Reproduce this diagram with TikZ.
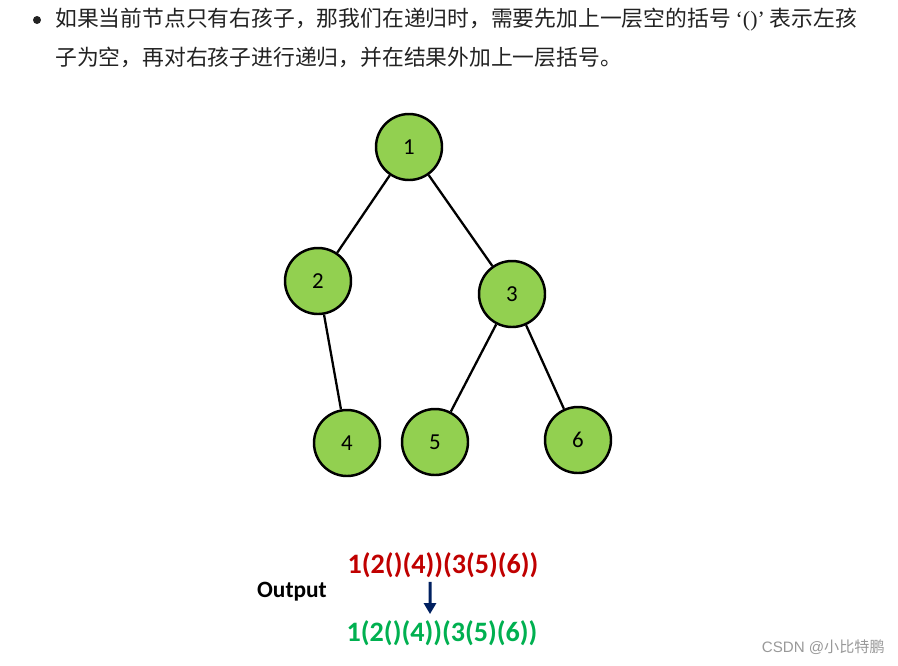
\documentclass[tikz,border=0pt]{standalone}
\usepackage{fontspec}
\setmainfont{Carlito}
\newfontfamily\cjk{Noto Sans CJK SC}
\newfontfamily\quotefont{Liberation Serif}
\newfontfamily\markfont{Liberation Sans}
\usetikzlibrary{arrows.meta}
\definecolor{nodegreen}{HTML}{92D050}
\definecolor{outred}{HTML}{C00000}
\definecolor{outgreen}{HTML}{00B050}
\definecolor{arrownavy}{HTML}{002060}
\definecolor{marktext}{HTML}{999999}
\definecolor{bodytext}{HTML}{222222}
\tikzstyle{treenode} = [circle, draw, line width=1.4pt, fill=nodegreen, minimum size=1.32cm, inner sep=0pt, font=\fontsize{13}{15}\selectfont]
\tikzstyle{edge} = [line width=1.3pt]
\tikzstyle{bodyline} = [anchor=west, inner sep=0pt, text=bodytext, font=\cjk\fontsize{12.4}{15}\selectfont]
\tikzstyle{result} = [inner sep=0pt, font=\bfseries\fontsize{16}{19}\selectfont]

\begin{document}
\begin{tikzpicture}
            \useasboundingbox (0,0) rectangle (17.96,-13.3);
            % explanation text
            \fill[bodytext] (0.74,-0.40) circle (0.08);
            \node (line1) [bodyline] at (1.10,-0.40) {如果当前节点只有右孩子，那我们在递归时，需要先加上一层空的括号 {\quotefont ‘()’} 表示左孩};
            \node (line2) [bodyline] at (1.10,-1.14) {子为空，再对右孩子进行递归，并在结果外加上一层括号。};
            % tree
            \node (n1) [treenode] at (8.18,-2.94) {1};
            \node (n2) [treenode, below of = n1, xshift = -1.82cm, yshift = -1.68cm] {2};
            \node (n3) [treenode, below of = n1, xshift = 2.06cm, yshift = -1.94cm] {3};
            \node (n4) [treenode, below of = n2, xshift = 0.58cm, yshift = -2.24cm] {4};
            \node (n5) [treenode, below of = n3, xshift = -1.54cm, yshift = -1.96cm] {5};
            \node (n6) [treenode, below of = n3, xshift = 1.32cm, yshift = -1.92cm] {6};
            \draw [edge] (n1) -- (n2);
            \draw [edge] (n1) -- (n3);
            \draw [edge] (n2) -- (n4);
            \draw [edge] (n3) -- (n5);
            \draw [edge] (n3) -- (n6);
            % output
            \node (label) [inner sep=0pt, font=\bfseries\fontsize{13.3}{16}\selectfont] at (5.84,-11.84) {Output};
            \node (before) [result, text=outred] at (8.86,-11.30) {1(2()(4))(3(5)(6))};
            \node (after) [result, text=outgreen] at (8.84,-12.66) {1(2()(4))(3(5)(6))};
            \draw [arrownavy, line width=1.7pt, -{Triangle[length=2.2mm, width=2.4mm]}] ([xshift=-0.26cm, yshift=-0.08cm]before.south) -- ([xshift=-0.24cm, yshift=0.12cm]after.north);
            % watermark
            \node (mark) [anchor=east, inner sep=0pt, text=marktext, font=\fontsize{8.6}{10}\selectfont] at (17.70,-12.94) {{\markfont CSDN @}{\cjk 小比特鹏}};
        \end{tikzpicture}
\end{document}
